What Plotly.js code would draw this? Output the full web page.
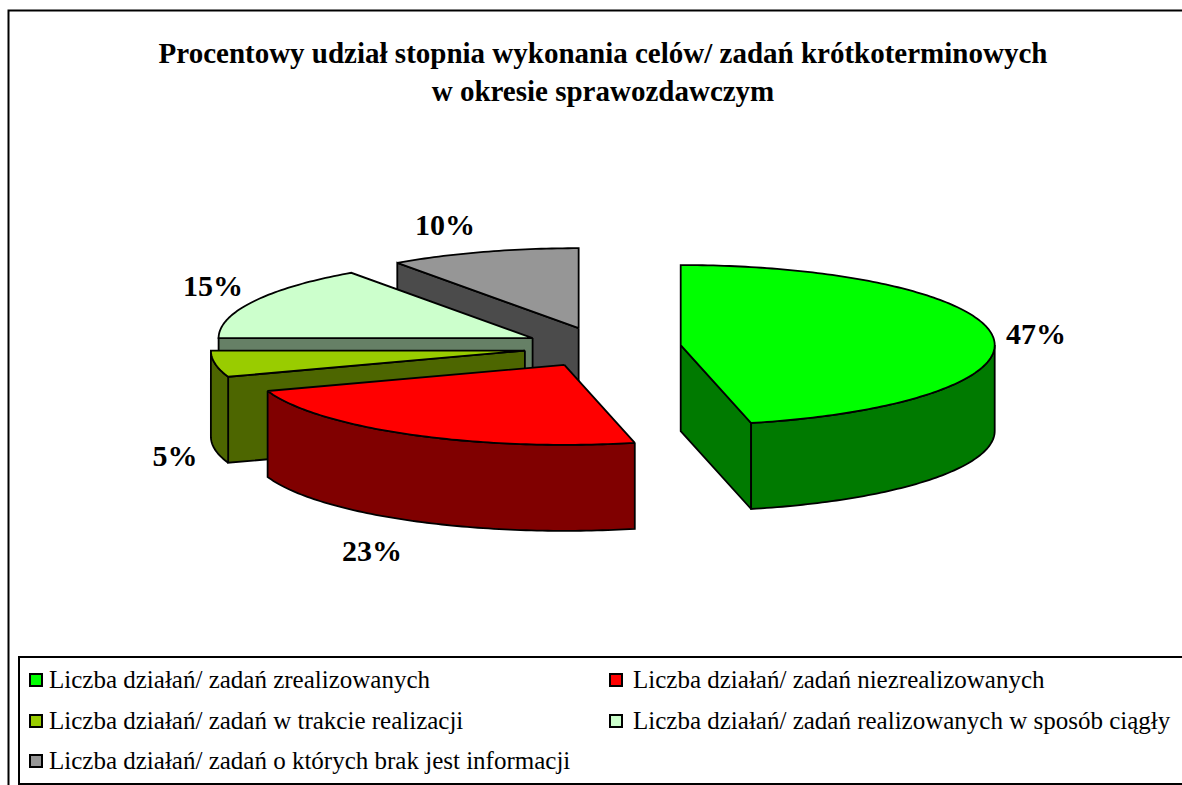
<!DOCTYPE html>
<html>
<head>
<meta charset="utf-8">
<script src="https://cdn.plot.ly/plotly-3.0.1.min.js"></script>
<style>html,body{margin:0;padding:0;background:#fff;overflow:hidden}</style>
</head>
<body>
<div id="chart" style="width:1182px;height:785px"></div>
<script>
// ---- data ----
const categories = [
  "Liczba działań/ zadań zrealizowanych",
  "Liczba działań/ zadań niezrealizowanych",
  "Liczba działań/ zadań w trakcie realizacji",
  "Liczba działań/ zadań realizowanych w sposób ciągły",
  "Liczba działań/ zadań o których brak jest informacji"
];
const sliceShares = [46.4, 23.3, 5.3, 15.2, 9.8];   // drawn share of the circle
const percentLabels = ["47%", "23%", "5%", "15%", "10%"];
const topColors = ["#00FF00", "#FF0000", "#99CC00", "#CCFFCC", "#969696"];
const wallColors = ["#007A00", "#800000", "#4D6600", "#668066", "#4B4B4B"];
const titleLines = [
  "Procentowy udział stopnia wykonania celów/ zadań krótkoterminowych",
  "w okresie sprawozdawczym"
];

// ---- pie projection ----
const CX = 602.5, CY = 347.3, RX = 314, RY = 80, DEPTH = 86, EXPLODE = 78.7;
const labelX = [1036, 372, 175, 213, 445];
const labelY = [336, 553, 458, 288, 227];
const legendX = [36, 616, 36, 616, 36];
const legendY = [680, 680, 721, 721, 761];
const legendTextX = [49, 633, 49, 633, 49];
const legendTextY = [682, 682, 723, 723, 763];
const rad = d => d * Math.PI / 180;
const FONT = '"Liberation Serif", "Times New Roman", serif';

const total = sliceShares.reduce((a, b) => a + b, 0);
let acc = 0;
const slices = sliceShares.map((v, i) => {
  const a0 = acc / total * 360;
  acc += v;
  const a1 = acc / total * 360;
  const mid = rad((a0 + a1) / 2);
  return {
    i, a0, a1,
    cx: CX + EXPLODE * Math.sin(mid),
    cy: CY - EXPLODE * Math.cos(mid) * RY / RX
  };
});
const rim = (s, a, dz = 0) => [s.cx + RX * Math.sin(rad(a)), s.cy - RY * Math.cos(rad(a)) + dz];

function arc(s, a0, a1, dz = 0) {
  const out = [];
  const n = Math.max(2, Math.ceil(Math.abs(a1 - a0)));
  for (let k = 0; k <= n; k++) out.push(rim(s, a0 + (a1 - a0) * k / n, dz));
  return out;
}
function poly(pts, fill, name) {
  const c = pts.concat([pts[0]]);
  return {
    type: "scatter", mode: "lines", x: c.map(p => p[0]), y: c.map(p => p[1]),
    fill: "toself", fillcolor: fill, line: {color: "#000", width: 1.8, simplify: false},
    name, showlegend: false, hoverinfo: "name"
  };
}
function radialWall(s, a, col, name) {
  const r = rim(s, a);
  return poly([[s.cx, s.cy], r, [r[0], r[1] + DEPTH], [s.cx, s.cy + DEPTH]], col, name);
}

const traces = [];
// painter's order: back slices first
[4, 3, 2, 1, 0].forEach(idx => {
  const s = slices[idx], name = categories[idx], wall = wallColors[idx];
  if (Math.sin(rad(s.a0)) < -1e-6) traces.push(radialWall(s, s.a0, wall, name));
  if (Math.sin(rad(s.a1)) > 1e-6) traces.push(radialWall(s, s.a1, wall, name));
  const f0 = Math.max(s.a0, 90), f1 = Math.min(s.a1, 270);
  if (f1 > f0) traces.push(poly(arc(s, f0, f1).concat(arc(s, f1, f0, DEPTH)), wall, name));
  traces.push(poly([[s.cx, s.cy]].concat(arc(s, s.a0, s.a1)), topColors[idx], name));
});

// percentage labels
traces.push({
  type: "scatter", mode: "text", x: labelX, y: labelY, text: percentLabels,
  textposition: "middle center", textfont: {family: FONT, size: 30, color: "#000", weight: "bold"},
  showlegend: false, hoverinfo: "skip", name: "labels", cliponaxis: false
});
// legend entries
categories.forEach((c, i) => {
  traces.push({
    type: "scatter", mode: "markers", x: [legendX[i]], y: [legendY[i]],
    marker: {symbol: "square", size: 12, color: topColors[i], line: {color: "#000", width: 2}},
    name: c, showlegend: false, hoverinfo: "name", cliponaxis: false
  });
  traces.push({
    type: "scatter", mode: "text", x: [legendTextX[i]], y: [legendTextY[i]], text: [c],
    textposition: "middle right",
    textfont: {family: FONT, size: 25, color: "#000"},
    name: c, showlegend: false, hoverinfo: "skip", cliponaxis: false
  });
});

const layout = {
  width: 1182, height: 785,
  margin: {l: 0, r: 0, t: 0, b: 0},
  paper_bgcolor: "#fff", plot_bgcolor: "#fff",
  showlegend: false,
  title: {
    text: "<b>" + titleLines.join("<br>") + "</b>",
    font: {family: FONT, size: 29, color: "#000"},
    x: 603 / 1182, xanchor: "center", y: 1 - 63 / 785, yanchor: "middle"
  },
  xaxis: {range: [0, 1182], visible: false, fixedrange: true},
  yaxis: {range: [785, 0], visible: false, fixedrange: true},
  shapes: [
    {type: "rect", xref: "x", yref: "y", x0: 8.5, y0: 10.5, x1: 1200, y1: 800,
     line: {color: "#000", width: 2}, fillcolor: "#fff", layer: "below"},
    {type: "rect", xref: "x", yref: "y", x0: 19, y0: 657, x1: 1200, y1: 784,
     line: {color: "#000", width: 2}, fillcolor: "#fff", layer: "below"}
  ]
};
Plotly.newPlot("chart", traces, layout, {displayModeBar: false, staticPlot: true});
</script>
</body>
</html>
